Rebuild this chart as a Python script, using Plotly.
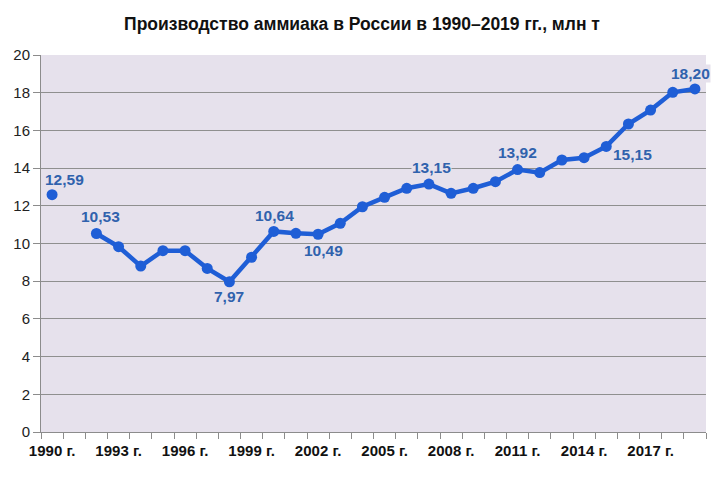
import plotly.graph_objects as go

years = list(range(1990, 2020))
values = [12.59, None, 10.53, 9.83, 8.80, 9.62, 9.62, 8.68, 7.97, 9.27,
          10.64, 10.54, 10.49, 11.07, 11.95, 12.45, 12.93, 13.15, 12.66, 12.93,
          13.28, 13.92, 13.76, 14.43, 14.55, 15.15, 16.34, 17.08, 18.02, 18.20]
label_years = [1990, 1992, 1998, 2000, 2002, 2007, 2011, 2015, 2019]
# label offsets (pixels) relative to the point
label_dx = [12, 4, 0, 1, 5, 3, 0, 26, -4]
label_dy = [15, 17, -15, 16, -16, 17, 17, -8, 15]
tick_years = list(range(1990, 2019, 3))
tick_text = [f"{y} г." for y in tick_years]

LINE = "#1f5ed6"
LABEL = "#3062ad"
BG = "#e6e1ec"

fig = go.Figure()
fig.add_trace(go.Scatter(
    x=years, y=values, mode="lines+markers",
    line=dict(color=LINE, width=4.5),
    marker=dict(color=LINE, size=11),
    connectgaps=False, hoverinfo="skip"))

for yr, dx, dy in zip(label_years, label_dx, label_dy):
    v = values[years.index(yr)]
    txt = f"{v:.2f}".replace(".", ",")
    fig.add_annotation(x=yr, y=v, text=f"<b>{txt}</b>", showarrow=False,
                       xshift=dx, yshift=dy,
                       font=dict(family="Liberation Sans, Arial, sans-serif", size=15.5, color=LABEL),
                       bgcolor=BG if dy > 0 else "rgba(0,0,0,0)", borderpad=0)

fig.update_layout(
    width=724, height=485,
    margin=dict(l=41, r=18, t=55, b=53),
    paper_bgcolor="white", plot_bgcolor=BG,
    showlegend=False,
    title=dict(text="<b>Производство аммиака в России в 1990–2019 гг., млн т</b>",
               x=0.5, xanchor="center", y=0.95, yanchor="middle",
               font=dict(family="Liberation Sans, Arial, sans-serif",
                         size=17.5, color="#111111")),
)
fig.update_xaxes(
    range=[1989.5, 2019.5], tickvals=tick_years, ticktext=tick_text,
    ticks="", showgrid=False, zeroline=False,
    showline=True, linecolor="#8c8c8c", linewidth=1,
    ticklabelstandoff=5,
    tickfont=dict(family="Liberation Sans, Arial, sans-serif",
                  size=15, color="#111111", weight="bold"),
    minor=dict(tickvals=[y - 0.5 for y in years] + [2019.5], ticks="outside",
               ticklen=6, tickcolor="#8c8c8c", showgrid=False),
)
fig.update_yaxes(
    range=[0, 20], dtick=2, tick0=0,
    showgrid=True, gridcolor="#8f8f8f", gridwidth=1,
    zeroline=False, showline=True, linecolor="#8c8c8c", linewidth=1,
    ticks="outside", ticklen=7, tickcolor="#8c8c8c",
    tickfont=dict(family="Liberation Sans, Arial, sans-serif", size=15, color="#222222"),
)

fig.write_html("out.html")
